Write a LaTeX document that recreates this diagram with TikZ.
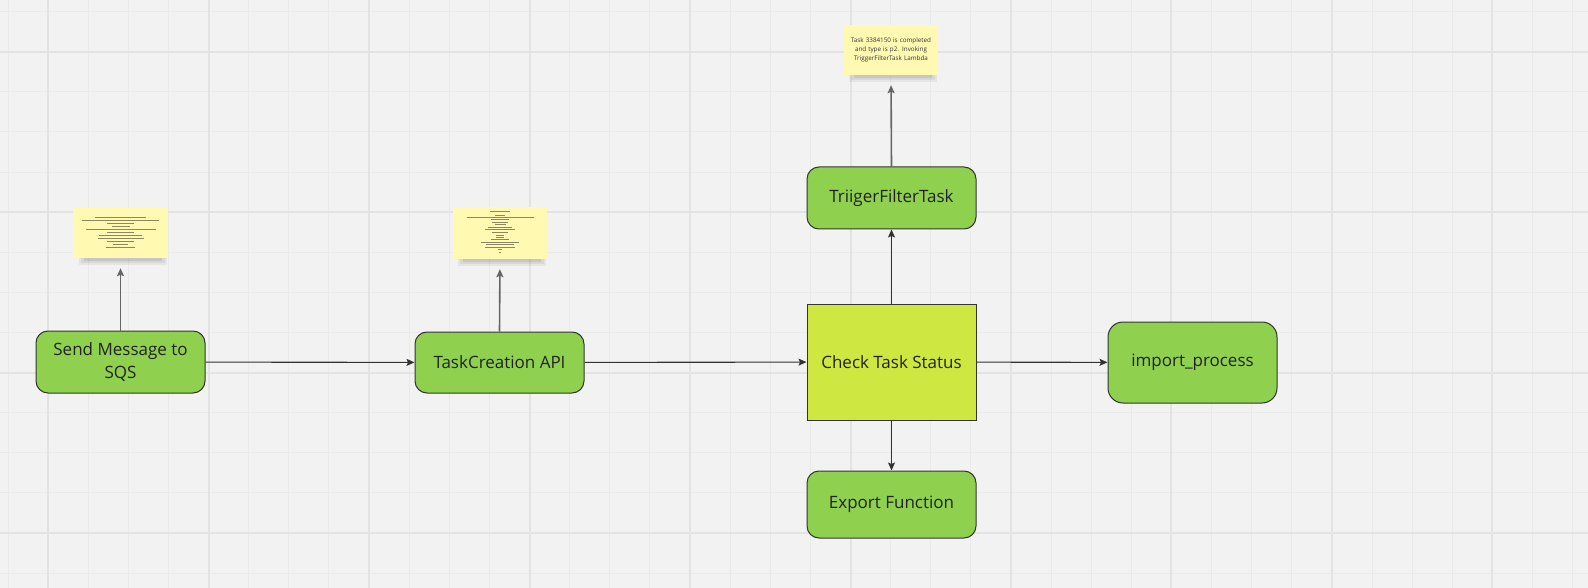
\documentclass[tikz,border=0pt]{standalone}
\usepackage{fontspec}
\setmainfont{Open Sans}
\usetikzlibrary{arrows.meta}
\definecolor{bgc}{HTML}{F2F2F2}
\definecolor{gridminor}{HTML}{EAEAEA}
\definecolor{gridmajor}{HTML}{E3E3E3}
\definecolor{boxgreen}{HTML}{8FD14F}
\definecolor{boxlime}{HTML}{CEE741}
\definecolor{edgedark}{HTML}{333333}
\definecolor{notey}{HTML}{FFF9B1}
\definecolor{scrib}{HTML}{8C8763}
\definecolor{txt}{HTML}{222222}
\tikzset{
  minorline/.style={gridminor, line width=1pt},
  majorline/.style={gridmajor, line width=2pt},
  procbox/.style={draw=edgedark, line width=1pt, fill=boxgreen, rounded corners=12pt,
    minimum width=169pt, minimum height=62pt, inner sep=0pt, align=center, text=txt,
    font=\fontsize{17}{23}\selectfont},
  checkbox/.style={draw=edgedark, line width=1pt, fill=boxlime,
    minimum width=169pt, minimum height=116pt, inner sep=0pt, align=center, text=txt,
    font=\fontsize{17}{23}\selectfont},
  stickynote/.style={fill=notey, draw=none, inner sep=0pt, align=center, text=edgedark,
    font=\fontsize{6.3}{9.3}\selectfont},
  flow/.style={draw=edgedark, line width=1.1pt, -{Stealth[length=8pt,width=7pt,inset=1.5pt]}},
  noteflow/.style={draw=edgedark!75, line width=1.6pt, shorten >=10pt, -{Stealth[length=8pt,width=7pt,inset=1.5pt]}},
  scribble/.style={scrib, line width=0.9pt},
}
\begin{document}
\begin{tikzpicture}[x=1pt,y=-1pt]
\useasboundingbox (0,0) rectangle (1588,588);
\fill[bgc] (0,0) rectangle (1588,588);
% grid
\foreach \i in {0,...,39} {\draw[minorline] ({8+40.12*\i},0) -- ({8+40.12*\i},588);}
\foreach \j in {0,...,14} {\draw[minorline] (0,{11.7+40.1*\j}) -- (1588,{11.7+40.1*\j});}
\foreach \k in {0,...,9} {\draw[majorline] ({48.1+160.48*\k},0) -- ({48.1+160.48*\k},588);}
\foreach \k in {0,...,3} {\draw[majorline] (0,{51.7+160.4*\k}) -- (1588,{51.7+160.4*\k});}

% sticky shadows
\foreach \cx/\by in {120.5/258, 500/259, 891/75} {
  \fill[black, opacity=0.05] ({\cx-42},{\by-3}) rectangle ({\cx+46},{\by+7});
  \fill[black, opacity=0.06] ({\cx-40},{\by-3}) rectangle ({\cx+44},{\by+5});
  \fill[black, opacity=0.08] ({\cx-37},{\by-3}) rectangle ({\cx+41},{\by+3});
}

% sticky notes
\node[stickynote, minimum width=95pt, minimum height=50pt] (note1) at (120.5,233) {};
\node[stickynote, minimum width=94pt, minimum height=52pt] (note2) at (500,233) {};
\node[stickynote, minimum width=94pt, minimum height=50pt, text width=90pt] (note3) at (891,50)
  {Task 3384150 is completed\\and type is p2. Invoking\\TriggerFilterTask Lambda};

% scribbles on note 1
\foreach \y/\a/\b in {217.3/95/146, 220.3/82.3/159.3, 223.3/107.3/134.3, 226.3/111.7/130,
  229.3/86/155.7, 232.3/107.3/134.3, 235.3/99.3/142.3, 238.3/97.7/144, 241.3/107.3/134.3,
  244.3/113.3/127.7, 247.3/106/135}
  {\draw[scribble] (\a,\y) -- (\b,\y);}
% scribbles on note 2
\foreach \y/\a/\b in {211.7/490/510, 215/495/505, 217/466.7/534, 219.7/491/509, 222/492.3/507.7,
  224.7/495/505.7, 227.3/488.3/511.7, 229.7/485.3/514.7, 232.3/492.3/507.7, 235/496/504,
  237.3/496/504, 239.7/490.7/509.3, 242.3/481.3/518.7, 244.7/485.7/514.3, 247.3/485.3/514.7,
  249.7/498/502, 252/498.7/500.7}
  {\draw[scribble, line width=0.8pt] (\a,\y) -- (\b,\y);}

% process nodes
\node[procbox] (send) at (120.5,362) {Send Message to\\SQS};
\node[procbox, minimum height=61pt] (task) at (499.5,362.5) {TaskCreation API};
\node[checkbox] (check) at (891.5,362) {Check Task Status};
\node[procbox] (trig) at (891.5,198) {TriigerFilterTask};
\node[procbox, minimum height=67pt] (export) at (891.5,504.5) {Export Function};
\node[procbox, minimum height=81pt, rounded corners=15pt] (import) at (1192.5,362.5) {import\_process};

% connectors
\draw[flow] (send) -- (task);
\draw[flow] (task) -- (check);
\draw[flow] (check) -- (import);
\draw[flow] (check) -- (trig);
\draw[flow] (check) -- (export);
\draw[noteflow] (send.north) -- (note1.south);
\draw[noteflow] (task.north) -- (note2.south);
\draw[noteflow] (trig.north) -- (note3.south);
\end{tikzpicture}
\end{document}
